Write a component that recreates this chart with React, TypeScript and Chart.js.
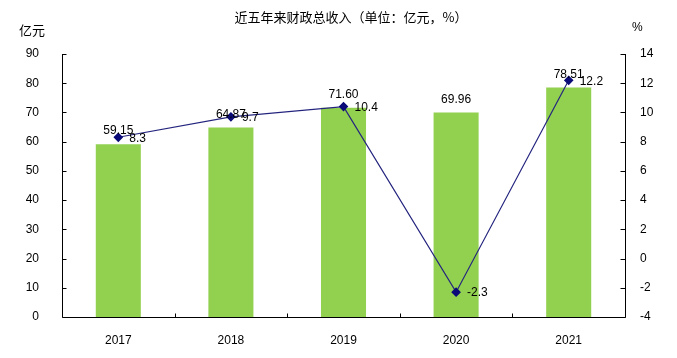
import React, { useEffect, useRef } from "react";
import { Chart, registerables } from "chart.js";

Chart.register(...registerables);

const categories = ["2017", "2018", "2019", "2020", "2021"];
const revenue = [59.15, 64.87, 71.6, 69.96, 78.51];
const growth = [8.3, 9.7, 10.4, -2.3, 12.2];
const leftTicks = [0, 10, 20, 30, 40, 50, 60, 70, 80, 90];
const rightTicks = [-4, -2, 0, 2, 4, 6, 8, 10, 12, 14];
const title = "近五年来财政总收入（单位：亿元，%）";
const leftUnit = "亿元";
const rightUnit = "%";

const NUM_FONT = "12px 'Liberation Sans', Arial, sans-serif";
const CJK_FONT = "13px 'Noto Sans CJK SC', sans-serif";

const decorPlugin = {
  id: "decor",
  afterDatasetsDraw(chart: any) {
    const ctx = chart.ctx;
    const area = chart.chartArea;
    const x = chart.scales.x;
    const y = chart.scales.y;
    const y2 = chart.scales.y2;
    ctx.save();
    ctx.strokeStyle = "#000";
    ctx.lineWidth = 1;
    ctx.beginPath();
    const L = Math.round(area.left) + 0.5;
    const R = Math.round(area.right) + 0.5;
    const B = Math.round(area.bottom) + 0.5;
    ctx.moveTo(L, Math.round(area.top));
    ctx.lineTo(L, B);
    ctx.lineTo(R, B);
    ctx.lineTo(R, Math.round(area.top));
    leftTicks.forEach((v) => {
      const py = Math.round(y.getPixelForValue(v)) + 0.5;
      ctx.moveTo(L, py);
      ctx.lineTo(L + 4, py);
    });
    rightTicks.forEach((v) => {
      const py = Math.round(y2.getPixelForValue(v)) + 0.5;
      ctx.moveTo(R, py);
      ctx.lineTo(R - 5, py);
    });
    const n = categories.length;
    for (let i = 1; i < n; i++) {
      const px = Math.round((x.getPixelForValue(i - 1) + x.getPixelForValue(i)) / 2) + 0.5;
      ctx.moveTo(px, B);
      ctx.lineTo(px, B - 4);
    }
    ctx.stroke();

    ctx.fillStyle = "#000";
    ctx.font = NUM_FONT;
    ctx.textAlign = "center";
    ctx.textBaseline = "middle";
    const barMeta = chart.getDatasetMeta(0);
    barMeta.data.forEach((el: any, i: number) => {
      ctx.fillText(revenue[i].toFixed(2), el.x, el.y - 13);
    });
    ctx.textAlign = "left";
    const lineMeta = chart.getDatasetMeta(1);
    lineMeta.data.forEach((el: any, i: number) => {
      ctx.fillText(String(growth[i]), el.x + 11, el.y + 1);
    });

    ctx.font = CJK_FONT;
    ctx.textAlign = "center";
    ctx.fillText(title, 351, 17);
    ctx.textAlign = "left";
    ctx.font = "13px 'Noto Sans CJK SC', sans-serif";
    ctx.fillText(leftUnit, 19, 30);
    ctx.font = NUM_FONT;
    ctx.fillText(rightUnit, 632, 28);
    ctx.restore();
  },
};

export default function App() {
  const ref = useRef<HTMLCanvasElement>(null);
  useEffect(() => {
    if (!ref.current) return;
    const chart = new Chart(ref.current, {
      data: {
        labels: categories,
        datasets: [
          {
            type: "bar",
            data: revenue,
            backgroundColor: "#92D050",
            yAxisID: "y",
            barPercentage: 0.8,
            categoryPercentage: 0.5,
            order: 2,
          },
          {
            type: "line",
            data: growth,
            yAxisID: "y2",
            borderColor: "#24247f",
            borderWidth: 1.2,
            pointStyle: "rectRot",
            pointRadius: 4,
            pointBackgroundColor: "#0a0a78",
            pointBorderColor: "#0a0a78",
            tension: 0,
            order: 1,
          },
        ],
      } as any,
      options: {
        animation: false,
        responsive: false,
        maintainAspectRatio: false,
        layout: { padding: { top: 54, left: 0, right: 0, bottom: 0 } },
        plugins: { legend: { display: false }, tooltip: { enabled: false }, title: { display: false } },
        scales: {
          x: {
            grid: { display: false },
            border: { display: false },
            ticks: { color: "#000", font: { family: "'Liberation Sans', Arial, sans-serif", size: 12 }, padding: 8 },
            afterFit: (s: any) => {
              s.height = 41;
            },
          },
          y: {
            position: "left",
            min: 0,
            max: 90,
            grid: { display: false },
            border: { display: false },
            ticks: { stepSize: 10, color: "#000", font: { family: "'Liberation Sans', Arial, sans-serif", size: 12 }, padding: 15 },
            afterFit: (s: any) => {
              s.width = 62;
            },
          },
          y2: {
            position: "right",
            min: -4,
            max: 14,
            grid: { display: false },
            border: { display: false },
            ticks: { stepSize: 2, color: "#000", font: { family: "'Liberation Sans', Arial, sans-serif", size: 12 }, padding: 7 },
            afterFit: (s: any) => {
              s.width = 52;
            },
          },
        },
      } as any,
      plugins: [decorPlugin],
    });
    return () => chart.destroy();
  }, []);
  return (
    <div style={{ position: "fixed", left: 0, top: 0, width: 677, height: 358, background: "#fff" }}>
      <canvas ref={ref} width={677} height={358} style={{ width: 677, height: 358 }} />
    </div>
  );
}
